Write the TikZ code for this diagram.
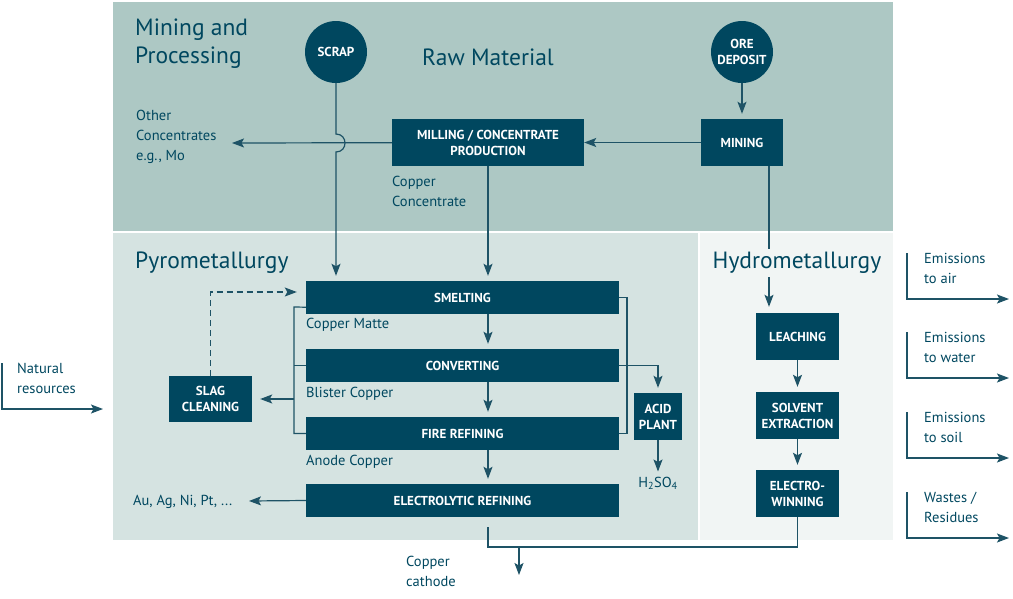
\documentclass[tikz,border=0pt]{standalone}
\usepackage{fontspec}
\setmainfont{PT Sans}
\usetikzlibrary{arrows.meta}

\definecolor{deep}{HTML}{00475F}
\definecolor{wire}{HTML}{1E5366}
\definecolor{mining}{HTML}{ADC8C4}
\definecolor{pyro}{HTML}{D5E3E1}
\definecolor{hydro}{HTML}{F1F5F4}

\tikzset{
	unit/.style={fill=deep, text=white, font=\bfseries\fontsize{13}{16}\selectfont, align=center, inner sep=0pt},
	source/.style={unit, circle, minimum size=62pt},
	flow/.style={wire, line width=1.2pt},
	arrow/.style={flow, -{Stealth[length=12pt, width=9pt, inset=2.5pt]}, shorten >=5pt},
	note/.style={text=deep, font=\fontsize{14.5}{20}\selectfont, align=left, anchor=west, inner sep=0pt},
	title/.style={text=deep, font=\fontsize{23.5}{28}\selectfont, align=left, inner sep=0pt}
}

\begin{document}
\begin{tikzpicture}[x=1pt, y=-1pt]
\useasboundingbox (0,0) rectangle (1013,598);

\fill[mining] (113,2) rectangle (893,231);
\fill[pyro] (113,233) rectangle (698,540);
\fill[hydro] (700,233) rectangle (893,540);

\node (scrap) at (336,52) [source] {SCRAP};
\node (ore) at (742,52) [source] {ORE\\DEPOSIT};
\node (mine) at (742,142.5) [unit, minimum width=82pt, minimum height=47pt] {MINING};
\node (mill) at (488,142.5) [unit, minimum width=192pt, minimum height=47pt] {MILLING / CONCENTRATE\\PRODUCTION};

\node (smelt) at (462.5,297.5) [unit, minimum width=313pt, minimum height=33pt] {SMELTING};
\node (conv) at (462.5,365.5) [unit, minimum width=313pt, minimum height=33pt] {CONVERTING};
\node (fire) at (462.5,433.5) [unit, minimum width=313pt, minimum height=33pt] {FIRE REFINING};
\node (elec) at (462.5,500.5) [unit, minimum width=313pt, minimum height=33pt] {ELECTROLYTIC REFINING};
\node (slag) at (210.5,399) [unit, minimum width=83pt, minimum height=46pt] {SLAG\\CLEANING};
\node (acid) at (658,416.5) [unit, minimum width=48pt, minimum height=47pt] {ACID\\PLANT};

\node (leach) at (797.5,336.5) [unit, minimum width=83pt, minimum height=47pt] {LEACHING};
\node (solv) at (797.5,415.5) [unit, minimum width=83pt, minimum height=47pt] {SOLVENT\\EXTRACTION};
\node (ewin) at (797.5,493.5) [unit, minimum width=83pt, minimum height=47pt] {ELECTRO-\\WINNING};

\coordinate (other) at (232,143);
\coordinate (hopin) at (336,134);
\coordinate (hopout) at (336,152);
\coordinate (lbtop) at (294,307);
\coordinate (lbbot) at (294,433.5);
\coordinate (lbmid) at (294,365.5);
\coordinate (lbout) at (294,399);
\coordinate (rbtop) at (627,297.5);
\coordinate (rbbot) at (627,433.5);
\coordinate (metals) at (249,501);
\coordinate (cathin) at (488,547);
\coordinate (cathout) at (519,547);
\coordinate (cathend) at (519,575);
\coordinate (natural) at (2,363);
\coordinate (naturalend) at (103,409);

\draw [arrow] (ore) -- (mine);
\draw [arrow, shorten >=0pt] (mine) -- (mill);
\draw [arrow, shorten >=0pt] (mill) -- (other);
\draw [arrow] (scrap) -- (hopin) .. controls (348,134) and (348,152) .. (hopout) -- (scrap |- smelt.north);
\draw [arrow] (mill) -- (mill.south |- smelt.north);
\draw [arrow, shorten >=6pt] ([xshift=27pt]mine.south) -- ([xshift=27pt]mine.south |- leach.north);

\draw [arrow] (mill.south |- smelt.south) -- (mill.south |- conv.north);
\draw [arrow] (mill.south |- conv.south) -- (mill.south |- fire.north);
\draw [arrow] (mill.south |- fire.south) -- (mill.south |- elec.north);
\draw [flow] ([yshift=7pt]smelt.south west) -- (lbtop) -- (lbbot) -- (fire.west);
\draw [flow] (conv.west) -- (lbmid);
\draw [arrow, shorten >=8pt] (lbout) -- (slag.east);
\draw [arrow, dash pattern=on 6pt off 4pt, line width=1.1pt, shorten >=9pt] (slag.north) |- ([yshift=5.5pt]smelt.west);
\draw [flow] (smelt.east) -- (rbtop) -- (rbbot) -- (fire.east);
\draw [arrow] (conv.east) -| (acid.north);
\draw [arrow, shorten >=0pt] (elec.west) -- (metals);

\draw [arrow] (leach) -- (solv);
\draw [arrow] (solv) -- (ewin);
\draw [flow] ([yshift=-10pt]mill.south |- elec.south) -- (cathin) -- (cathin -| ewin.south) -- (ewin.south);
\draw [arrow, shorten >=0pt] (cathout) -- (cathend);
\draw [arrow, shorten >=0pt] (natural) |- (naturalend);

\node (mp) at (135,44) [title, anchor=west] {Mining and\\Processing};
\node (raw) at (488,57) [title] {Raw Material};
\node (pm) at (135,263) [title, anchor=west] {Pyrometallurgy};
\node (hm) at (797,263) [title, fill=hydro, inner ysep=3pt] {Hydrometallurgy};

\node (otherl) at (136,137) [note] {Other\\Concentrates\\e.g., Mo};
\node (concl) at (392,191.5) [note] {Copper\\Concentrate};
\node (mattel) at (306,325) [note] {Copper Matte};
\node (blisterl) at (306,394) [note] {Blister Copper};
\node (anodel) at (306,462) [note] {Anode Copper};
\node (metalsl) at (133,502) [note] {Au, Ag, Ni, Pt, ...};
\node (acidl) at (658,483) [note, anchor=center] {H\textsubscript{2}SO\textsubscript{4}};
\draw [arrow] (acid) -- (acidl);
\node (cathl) at (406,571) [note] {Copper\\cathode};
\node (naturall) at (17,378.5) [note] {Natural\\resources};

\foreach \y/\txt [count=\i] in {253/{Emissions\\to air}, 332/{Emissions\\to water}, 412/{Emissions\\to soil}, 492/{Wastes /\\Residues}} {
	\coordinate (out\i) at (907,\y);
	\coordinate (outend\i) at (1009,\y+46);
	\draw [arrow, shorten >=0pt] (out\i) |- (outend\i);
	\node (outl\i) at (924,\y+15) [note] {\txt};
}

\end{tikzpicture}
\end{document}
